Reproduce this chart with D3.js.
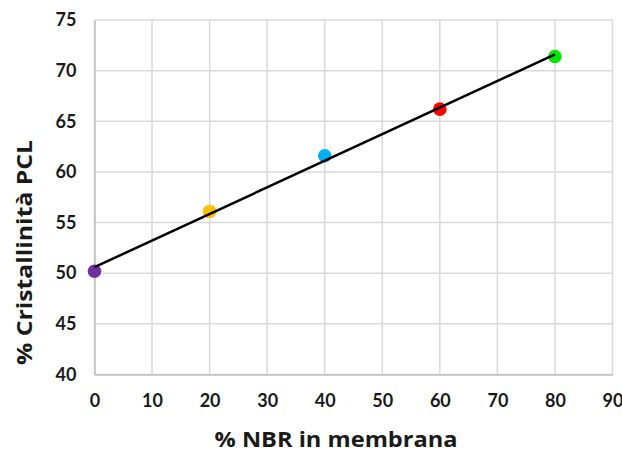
<!DOCTYPE html>
<html><head><meta charset="utf-8">
<script src="https://cdn.jsdelivr.net/npm/d3@7"></script>
<style>body{margin:0;background:#fff}svg{display:block}</style>
</head><body>
<svg id="c" width="622" height="455"></svg>
<script>
const nbr = [0, 20, 40, 60, 80];
const cryst = [50.2, 56.1, 61.6, 66.2, 71.4];
const dotColors = ["#7030A0", "#FFC000", "#00B0F0", "#FF0000", "#00E600"];
const xTicks = [0, 10, 20, 30, 40, 50, 60, 70, 80, 90];
const yTicks = [40, 45, 50, 55, 60, 65, 70, 75];
const xTitle = "% NBR in membrana";
const yTitle = "% Cristallinità PCL";

const svg = d3.select("#c");
const m = {l: 94.5, r: 612.5, t: 20, b: 374.5};
const x = d3.scaleLinear().domain([0, 90]).range([m.l, m.r]);
const y = d3.scaleLinear().domain([40, 75]).range([m.b, m.t]);
const font = "Lato, 'Open Sans', sans-serif";
const titleFont = "'Open Sans', Lato, sans-serif";

// grid
svg.append("g").selectAll("line").data(xTicks).join("line")
  .attr("x1", d => x(d)).attr("x2", d => x(d)).attr("y1", m.t).attr("y2", m.b)
  .attr("stroke", "#d9d9d9").attr("stroke-width", 1.5);
svg.append("g").selectAll("line").data(yTicks).join("line")
  .attr("y1", d => y(d)).attr("y2", d => y(d)).attr("x1", m.l).attr("x2", m.r)
  .attr("stroke", "#d9d9d9").attr("stroke-width", 1.5);

// axes
const xa = svg.append("g").attr("transform", `translate(0,${m.b})`)
  .call(d3.axisBottom(x).tickValues(xTicks).tickSize(0).tickPadding(20));
const ya = svg.append("g").attr("transform", `translate(${m.l},0)`)
  .call(d3.axisLeft(y).tickValues(yTicks).tickSize(0).tickPadding(18));
[xa, ya].forEach(a => {
  a.select(".domain").attr("stroke", "#bfbfbf").attr("stroke-width", 1.5);
  a.selectAll("text").attr("font-family", font).attr("font-weight", "bold")
    .attr("font-size", 18).attr("fill", "#1a1a1a");
});

// points
svg.append("g").selectAll("circle").data(nbr).join("circle")
  .attr("cx", d => x(d)).attr("cy", (d, i) => y(cryst[i])).attr("r", 6.8)
  .attr("fill", (d, i) => dotColors[i]);

// trendline (least squares from data), drawn over dots
const mx = d3.mean(nbr), my = d3.mean(cryst);
const slope = d3.sum(nbr, (d, i) => (d - mx) * (cryst[i] - my)) / d3.sum(nbr, d => (d - mx) ** 2);
const icpt = my - slope * mx;
const ends = [d3.min(nbr), d3.max(nbr)];
svg.append("line")
  .attr("x1", x(ends[0])).attr("y1", y(icpt + slope * ends[0]))
  .attr("x2", x(ends[1])).attr("y2", y(icpt + slope * ends[1]))
  .attr("stroke", "#000").attr("stroke-width", 2.5);

// titles
svg.append("text").attr("x", 336).attr("y", 447).attr("text-anchor", "middle")
  .attr("font-family", titleFont).attr("font-weight", "bold").attr("font-size", 21)
  .attr("textLength", 243).attr("lengthAdjust", "spacingAndGlyphs")
  .attr("fill", "#1a1a1a").text(xTitle);
svg.append("text").attr("transform", "translate(32,252.5) rotate(-90)").attr("text-anchor", "middle")
  .attr("font-family", titleFont).attr("font-weight", "bold").attr("font-size", 21)
  .attr("textLength", 225).attr("lengthAdjust", "spacingAndGlyphs")
  .attr("fill", "#1a1a1a").text(yTitle);
</script>
</body></html>
